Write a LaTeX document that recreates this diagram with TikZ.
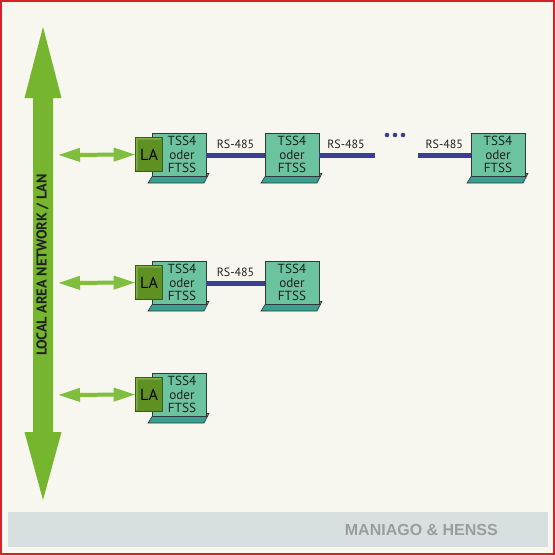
\documentclass[tikz,border=0pt]{standalone}
\usepackage{fontspec}
\setmainfont{PT Sans}
\newfontfamily\bandfont{Liberation Sans}
\usetikzlibrary{arrows.meta,calc}
\definecolor{bg}{HTML}{F8F7EF}
\definecolor{frame}{HTML}{D8202A}
\definecolor{band}{HTML}{D8DFE1}
\definecolor{bandtxt}{HTML}{9A9DA0}
\definecolor{bigarrow}{HTML}{76B52E}
\definecolor{smallarrow}{HTML}{80BE40}
\definecolor{boxfill}{HTML}{6CC3A0}
\definecolor{boxborder}{HTML}{2E3A36}
\definecolor{basefill}{HTML}{3A9E90}
\definecolor{laface}{HTML}{5E9022}
\definecolor{laedge}{HTML}{7FAF3E}
\definecolor{laborder}{HTML}{3B5A14}
\definecolor{busline}{HTML}{3D3D96}
\definecolor{txt}{HTML}{1E2220}
\begin{document}
\begin{tikzpicture}[x=1pt,y=-1pt,
  tssbox/.style={draw=boxborder,fill=boxfill,line width=0.8pt,minimum width=54pt,minimum height=43pt,inner sep=0pt,text=txt},
  tsstext/.style={align=center,text=txt,inner sep=0pt,font=\fontsize{13.2}{13.5}\selectfont},
  labox/.style={draw=laborder,fill=laface,line width=0.8pt,minimum width=26pt,minimum height=33pt,inner sep=0pt},
  latext/.style={font=\fontsize{16}{17}\selectfont,inner sep=0pt,text=black},
  basestyle/.style={fill=basefill,draw=boxborder,line width=0.6pt},
  lanarrow/.style={draw=smallarrow,line width=4pt,{Triangle[length=22pt,width=13pt]}-{Triangle[length=22pt,width=13pt]}},
  bus/.style={draw=busline,line width=5pt},
  rslabel/.style={font=\fontsize{12}{13}\selectfont,text=txt,inner sep=0pt},
  dot/.style={fill=busline,circle,inner sep=0pt,minimum size=4.6pt}
]
\useasboundingbox (0,0) rectangle (555,555);
\fill[bg] (0,0) rectangle (555,555);
\draw[frame,line width=2.2pt] (1.1,1.1) rectangle (553.9,553.9);
% bottom band
\fill[band] (8,512) rectangle (548,547);
\node[font=\bandfont\bfseries\fontsize{16}{18}\selectfont,text=bandtxt,anchor=east,inner sep=0pt] (brand) at (498,530) {MANIAGO \& HENSS};
% big LAN arrow
\fill[bigarrow] (43,27) -- (61.5,98) -- (53,98) -- (53,432) -- (61.5,432) -- (43,500) -- (24.5,432) -- (33,432) -- (33,98) -- (24.5,98) -- cycle;
\node[rotate=90,font=\bfseries\fontsize{14.3}{15}\selectfont,text=txt,inner sep=0pt] (lan) at (42.5,265) {LOCAL AREA NETWORK / LAN};
% platforms
\newcommand{\tssbase}[2]{%
  \filldraw[basestyle] ({#1+2},{#2+18.5}) -- ({#1+57},{#2+18.5}) -- ({#1+52},{#2+28}) -- ({#1-4},{#2+28}) -- cycle;}
% row 1
\tssbase{152}{155}
\tssbase{265}{155}
\tssbase{471}{155}
\node[tssbox] (t11) at (179,155) {};
\node[tssbox] (t12) at (292,155) {};
\node[tssbox] (t14) at (498,155) {};
\node[tsstext] (x11) at (182,154.5) {TSS4\\oder\\FTSS};
\node[tsstext] (x12) at (292,154.5) {TSS4\\oder\\FTSS};
\node[tsstext] (x14) at (498,154.5) {TSS4\\oder\\FTSS};
\node[labox] (la1) at (149,154.5) {};
\fill[laedge] (la1.south west) -- (la1.north west) -- (la1.north east) -- ([xshift=-2pt,yshift=-2pt]la1.north east) -- ([xshift=2pt,yshift=-2pt]la1.north west) -- ([xshift=2pt,yshift=2pt]la1.south west) -- cycle;
\draw[laborder,line width=0.8pt] (la1.south west) rectangle (la1.north east);
\node[latext] at (la1) {LA};
\coordinate (c13a) at (375,155);
\coordinate (c13b) at (418,155);
\draw[bus] (t11.east) -- (t12.west) node[rslabel,midway,yshift=11pt] (rs11) {RS-485};
\draw[bus] (t12.east) -- (c13a);
\node[rslabel] (rs12) at (346,144) {RS-485};
\draw[bus] (c13b) -- (t14.west) node[rslabel,midway,yshift=11pt] (rs13) {RS-485};
\node[dot] (d1) at (387,135) {};
\node[dot] (d2) at (395,135) {};
\node[dot] (d3) at (403,135) {};
% row 2
\tssbase{152}{283}
\tssbase{265}{283}
\node[tssbox] (t21) at (179,283) {};
\node[tssbox] (t22) at (292,283) {};
\node[tsstext] (x21) at (182,282.5) {TSS4\\oder\\FTSS};
\node[tsstext] (x22) at (292,282.5) {TSS4\\oder\\FTSS};
\node[labox] (la2) at (149,282.5) {};
\fill[laedge] (la2.south west) -- (la2.north west) -- (la2.north east) -- ([xshift=-2pt,yshift=-2pt]la2.north east) -- ([xshift=2pt,yshift=-2pt]la2.north west) -- ([xshift=2pt,yshift=2pt]la2.south west) -- cycle;
\draw[laborder,line width=0.8pt] (la2.south west) rectangle (la2.north east);
\node[latext] at (la2) {LA};
\draw[bus] (t21.east) -- (t22.west) node[rslabel,midway,yshift=11pt] (rs21) {RS-485};
% row 3
\tssbase{152}{395}
\node[tssbox] (t31) at (179,395) {};
\node[tsstext] (x31) at (182,394.5) {TSS4\\oder\\FTSS};
\node[labox] (la3) at (149,394.5) {};
\fill[laedge] (la3.south west) -- (la3.north west) -- (la3.north east) -- ([xshift=-2pt,yshift=-2pt]la3.north east) -- ([xshift=2pt,yshift=-2pt]la3.north west) -- ([xshift=2pt,yshift=2pt]la3.south west) -- cycle;
\draw[laborder,line width=0.8pt] (la3.south west) rectangle (la3.north east);
\node[latext] at (la3) {LA};
% LAN connectors
\coordinate (lan1) at (58,155);
\coordinate (lan2) at (58,283);
\coordinate (lan3) at (58,395);
\draw[lanarrow] (lan1) -- (la1.west);
\draw[lanarrow] (lan2) -- (la2.west);
\draw[lanarrow] (lan3) -- (la3.west);
\end{tikzpicture}
\end{document}
